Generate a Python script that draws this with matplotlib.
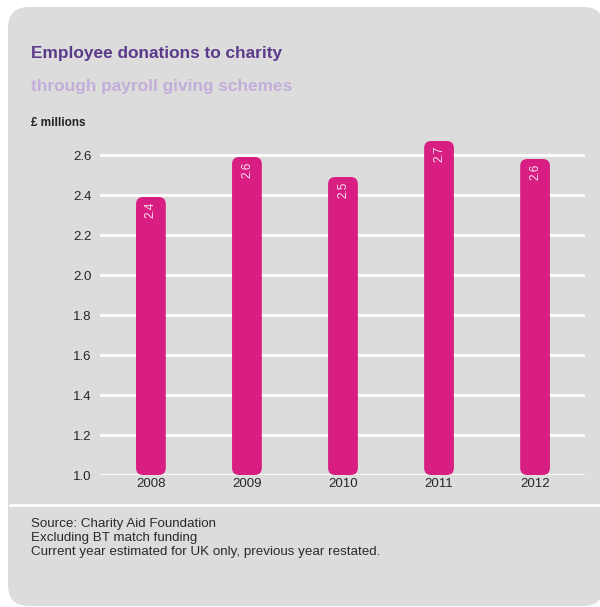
import matplotlib

matplotlib.use("Agg")
import matplotlib.pyplot as plt
from matplotlib.patches import FancyBboxPatch
from matplotlib.lines import Line2D

plt.rcParams["font.family"] = ["Liberation Sans", "DejaVu Sans"]

years = ["2008", "2009", "2010", "2011", "2012"]
donations = [2.39, 2.59, 2.49, 2.67, 2.58]
value_labels = ["2.4", "2.6", "2.5", "2.7", "2.6"]
y_ticks = [1.0, 1.2, 1.4, 1.6, 1.8, 2.0, 2.2, 2.4, 2.6]
notes = [
    "Source: Charity Aid Foundation",
    "Excluding BT match funding",
    "Current year estimated for UK only, previous year restated.",
]

W, H = 600, 607
PANEL = "#dcdcdc"
BAR = "#d81e82"

fig = plt.figure(figsize=(W / 100, H / 100), dpi=100)
fig.patch.set_facecolor("white")

# rounded grey panel behind everything
panel = FancyBboxPatch(
    (8 / W, 1 - 606 / H), (604 - 8) / W, (606 - 7) / H,
    boxstyle="round,pad=0,rounding_size=0.035",
    mutation_aspect=W / H,
    transform=fig.transFigure, facecolor=PANEL, edgecolor="none", zorder=-5,
)
fig.patches.append(panel)

ax = fig.add_axes([100 / W, 1 - 475 / H, 485 / W, 350 / H])
ax.set_zorder(2)
ax.set_facecolor("none")
ax.set_xlim(-0.53, 4.52)
ax.set_ylim(1.0, 2.75)

for y in y_ticks:
    ax.axhline(y, color="white", linewidth=2.0, zorder=1)

bars = ax.bar(range(len(years)), [d - 1.0 for d in donations], bottom=1.0, width=0.31)
for rect in bars:
    x0, y0 = rect.get_x(), rect.get_y()
    w, h = rect.get_width(), rect.get_height()
    rect.remove()
    ax.add_patch(FancyBboxPatch(
        (x0, y0), w, h,
        boxstyle="round,pad=0,rounding_size=0.075",
        mutation_aspect=0.47,
        facecolor=BAR, edgecolor="none", zorder=2,
    ))

for i, (val, lab) in enumerate(zip(donations, value_labels)):
    ax.text(i, val - 0.022, lab, rotation=90, ha="center", va="top",
            color="#fbe3ef", fontsize=8.5, zorder=3)

for s in ax.spines.values():
    s.set_visible(False)
ax.set_xticks(range(len(years)))
ax.set_xticklabels(years)
ax.set_yticks(y_ticks)
ax.set_yticklabels([f"{t:.1f}" for t in y_ticks])
ax.tick_params(length=0, labelsize=9.5, colors="#262626")
ax.tick_params(axis="x", pad=2)
ax.tick_params(axis="y", pad=6)

fig.text(31 / W, 1 - 58 / H, "Employee donations to charity", fontsize=12.4,
         fontweight="bold", color="#5b3a8c", va="baseline")
fig.text(31 / W, 1 - 91 / H, "through payroll giving schemes", fontsize=12.4,
         fontweight="bold", color="#c3aed9", va="baseline")
fig.text(31 / W, 1 - 126 / H, "£ millions", fontsize=8.5, fontweight="bold",
         color="#222222", va="baseline")

fig.add_artist(Line2D([10 / W, 1.0], [1 - 505 / H] * 2, color="white",
                      linewidth=2.0, transform=fig.transFigure))

for k, line in enumerate(notes):
    fig.text(31 / W, 1 - (527 + 14 * k) / H, line, fontsize=9.6,
             color="#2a2a2a", va="baseline")

fig.savefig("out.png", dpi=100, facecolor=fig.get_facecolor())
plt.close(fig)
